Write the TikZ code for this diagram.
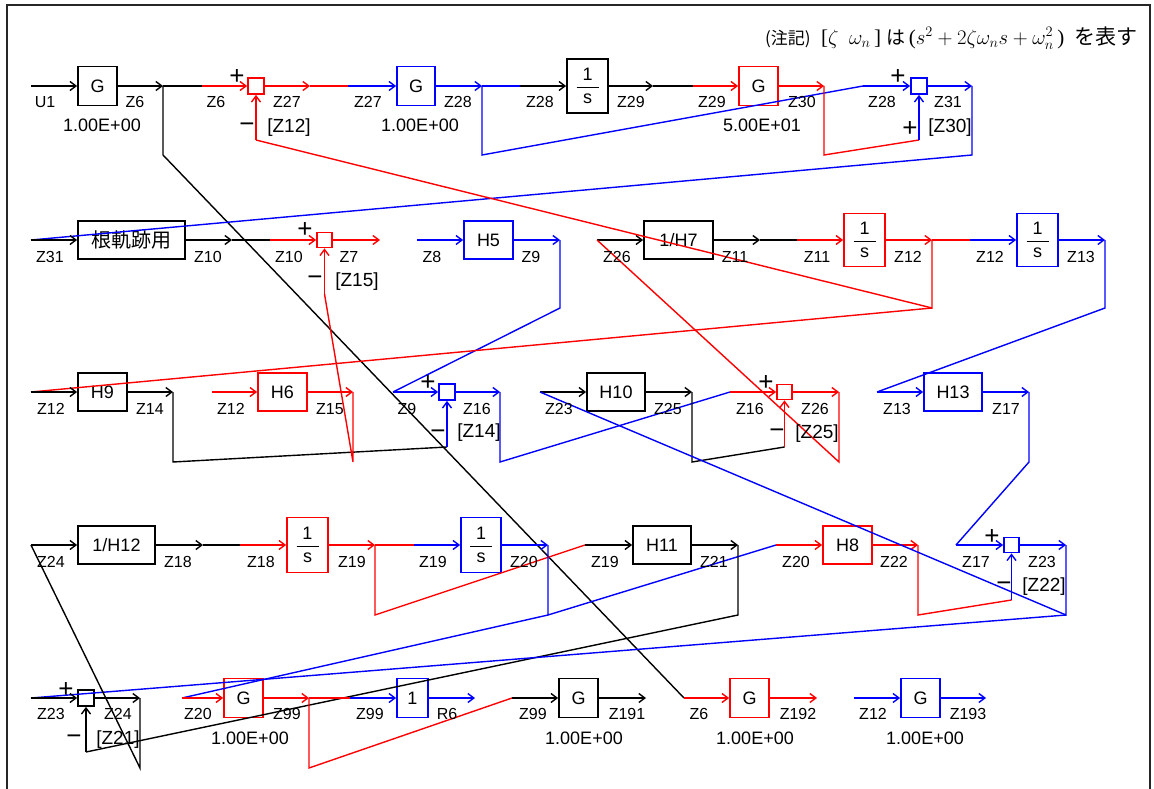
\documentclass[tikz,border=0pt]{standalone}
\usepackage{amsmath}
\usepackage{fontspec}
\setmainfont{Liberation Sans}
\newfontfamily\jp{Noto Sans CJK JP}
\newfontfamily\serif{Liberation Serif}
\usetikzlibrary{arrows.meta}
\newcommand\myfrac{\ensuremath{\genfrac{}{}{1.3pt}{0}{\makebox[22pt]{1}}{\mbox{s}}}}
\begin{document}
\begin{tikzpicture}[x=1pt,y=-1pt,
  ln/.style={line width=1.4pt},
  arr/.style={line width=1.4pt,-{Straight Barb[length=6pt,width=9pt]}},
  box/.style={draw,line width=1.8pt,inner sep=0pt,minimum height=38pt,font=\fontsize{18}{18}\selectfont},
  ibox/.style={box,minimum width=41pt,minimum height=54pt},
  sm/.style={draw,line width=1.8pt,inner sep=0pt,minimum size=15pt},
  lab/.style={inner sep=0pt,font=\fontsize{16}{16}\selectfont},
  gain/.style={inner sep=0pt,font=\fontsize{18}{18}\selectfont},
  sgn/.style={inner sep=0pt,font=\fontsize{26}{26}\selectfont},
  fb/.style={inner sep=0pt,font=\fontsize{19}{19}\selectfont},
]
\useasboundingbox (0,0) rectangle (1154,789);
\draw[line width=1.5pt,black!85] (7,5) rectangle (1150,820);

% note
\node[anchor=east,inner sep=0pt,font=\serif\fontsize{21}{21}\selectfont] (note) at (1138,38)
 {{\jp\fontsize{17}{17}\selectfont (注記)}\ \ [$\zeta\ \ \omega_n\,$]\ {\jp\fontsize{19}{19}\selectfont は}\,($s^{2}+2\zeta\omega_n s+\omega_n^{2}\,$)\ \ {\jp\fontsize{21}{21}\selectfont を表す}};

% ---------- blocks ----------
% row 1
\node[box,minimum width=39pt,minimum height=39pt] (gA) at (97.5,86) {G};
\node[sm,draw=red,minimum size=16pt] (sumA) at (256,86) {};
\node[box,draw=blue,minimum width=38pt,minimum height=39pt] (gB) at (416,86) {G};
\node[ibox] (intA) at (587.5,86) {\myfrac};
\node[box,draw=red,minimum width=39pt,minimum height=39pt] (gC) at (758.5,86) {G};
\node[sm,draw=blue,minimum size=16pt] (sumB) at (919,86) {};
% row 2
\node[box,minimum width=107pt,font=\jp\fontsize{20}{20}\selectfont] (rk) at (131.5,240) {根軌跡用};
\node[sm,draw=red] (sumC) at (324.5,240) {};
\node[box,draw=blue,minimum width=49pt] (h5) at (488.5,240) {H5};
\node[box,minimum width=69pt] (h7) at (678.5,240) {1/H7};
\node[ibox,draw=red,minimum height=53pt] (intB) at (864.5,240) {\myfrac};
\node[ibox,draw=blue,minimum height=53pt] (intC) at (1037.5,240) {\myfrac};
% row 3
\node[box,minimum width=49pt] (h9) at (102.5,392) {H9};
\node[box,draw=red,minimum width=49pt] (h6) at (282.5,392) {H6};
\node[sm,draw=blue,minimum size=16pt] (sumD) at (447,392) {};
\node[box,minimum width=58pt] (h10) at (616,392) {H10};
\node[sm,draw=red] (sumE) at (784.5,392) {};
\node[box,draw=blue,minimum width=58pt] (h13) at (953,392) {H13};
% row 4
\node[box,minimum width=77pt] (h12) at (116.5,545) {1/H12};
\node[ibox,draw=red,minimum height=55pt] (intD) at (307.5,545) {\myfrac};
\node[ibox,draw=blue,minimum width=40pt,minimum height=55pt] (intE) at (481,545) {\myfrac};
\node[box,minimum width=58pt] (h11) at (662,545) {H11};
\node[box,draw=red,minimum width=49pt] (h8) at (847.5,545) {H8};
\node[sm,draw=blue] (sumF) at (1011.5,545) {};
% row 5
\node[sm,minimum size=16pt] (sumG) at (86,698) {};
\node[box,draw=red,minimum width=39pt,minimum height=39pt] (gD) at (243.5,698) {G};
\node[box,draw=blue,minimum width=31pt,minimum height=39pt] (one) at (412.5,698) {1};
\node[box,minimum width=39pt,minimum height=39pt] (gE) at (578.5,698) {G};
\node[box,draw=red,minimum width=39pt,minimum height=39pt] (gF) at (749.5,698) {G};
\node[box,draw=blue,minimum width=39pt,minimum height=39pt] (gG) at (920.5,698) {G};

% ---------- coordinates ----------
\coordinate (u1) at (31,86);
\coordinate (z6o) at (163,86); \coordinate (z6i) at (202,86);
\coordinate (z6d) at (163,155); \coordinate (z6e) at (684,698);
\coordinate (z27o) at (310,86); \coordinate (z27i) at (348,86);
\coordinate (z28o) at (482,86); \coordinate (z28i) at (520,86);
\coordinate (z28d) at (482,155); \coordinate (z28s) at (863,86);
\coordinate (z29o) at (653,86); \coordinate (z29i) at (693,86);
\coordinate (z30o) at (824,86); \coordinate (z30d) at (824,155); \coordinate (z30f) at (919,140);
\coordinate (z31o) at (972,86); \coordinate (z31d) at (972,155); \coordinate (z31i) at (31,240);
\coordinate (z12f) at (256,140);

\coordinate (z10o) at (232,240); \coordinate (z10i) at (270,240);
\coordinate (z7o) at (380,240); \coordinate (z15f) at (324.5,294);
\coordinate (z8i) at (417,240);
\coordinate (z9o) at (560,240); \coordinate (z9d) at (560,308); \coordinate (z9e) at (393,392);
\coordinate (z26i) at (597,240);
\coordinate (z11o) at (760,240); \coordinate (z11i) at (797,240);
\coordinate (z12o) at (932,240); \coordinate (z12i) at (970,240);
\coordinate (z12d) at (932,308); \coordinate (z12e) at (31,392);
\coordinate (z13o) at (1105,240); \coordinate (z13d) at (1105,308); \coordinate (z13e) at (877,392);

\coordinate (z14o) at (173,392); \coordinate (z14d) at (173,462); \coordinate (z14f) at (447,447);
\coordinate (z12h) at (212,392);
\coordinate (z15o) at (353,392); \coordinate (z15d) at (353,462);
\coordinate (z16o) at (500,392); \coordinate (z16d) at (500,462); \coordinate (z16i) at (730,392);
\coordinate (z23h) at (540,392);
\coordinate (z25o) at (692,392); \coordinate (z25d) at (692,462); \coordinate (z25f) at (784.5,447);
\coordinate (z26o) at (839,392); \coordinate (z26d) at (839,462);
\coordinate (z17o) at (1029,392); \coordinate (z17d) at (1029,462); \coordinate (z17i) at (956,545);

\coordinate (z24i) at (31,545); \coordinate (z24d) at (140,768);
\coordinate (z18o) at (203,545); \coordinate (z18i) at (240,545);
\coordinate (z19o) at (375,545); \coordinate (z19i) at (414,545);
\coordinate (z19d) at (375,615); \coordinate (z19e) at (585,545);
\coordinate (z20o) at (548,545); \coordinate (z20d) at (548,615);
\coordinate (z20e) at (776,545); \coordinate (z20g) at (182,698);
\coordinate (z21o) at (738,545); \coordinate (z21d) at (738,615); \coordinate (z21f) at (86,752);
\coordinate (z22o) at (918,545); \coordinate (z22d) at (918,615); \coordinate (z22f) at (1011.5,600);
\coordinate (z23o) at (1066,545); \coordinate (z23d) at (1066,615); \coordinate (z23f) at (31,698);

\coordinate (z24o) at (140,698);
\coordinate (z99o) at (309,698); \coordinate (z99i) at (350,698);
\coordinate (z99d) at (309,768); \coordinate (z99e) at (512,698);
\coordinate (r6o) at (475,698); \coordinate (z191o) at (646,698);
\coordinate (z192o) at (817,698); \coordinate (z12g) at (854,698); \coordinate (z193o) at (986,698);

% ---------- connectors ----------
% row 1
\draw[arr] (u1) -- (gA.west);
\draw[arr] (gA.east) -- (z6o);
\draw[ln] (z6o) -- (z6i);
\draw[arr,red] (z6i) -- (sumA.west);
\draw[ln] (z6o) -- (z6d) -- (z6e);
\draw[arr,red] (z6e) -- (gF.west);
\draw[arr,red] (sumA.east) -- (z27o);
\draw[ln,red] (z27o) -- (z27i);
\draw[arr,blue] (z27i) -- (gB.west);
\draw[arr,red] (z12f) -- (sumA.south);
\draw[arr,blue] (gB.east) -- (z28o);
\draw[ln,blue] (z28o) -- (z28i);
\draw[arr] (z28i) -- (intA.west);
\draw[ln,blue] (z28o) -- (z28d) -- (z28s);
\draw[arr,blue] (z28s) -- (sumB.west);
\draw[arr] (intA.east) -- (z29o);
\draw[ln] (z29o) -- (z29i);
\draw[arr,red] (z29i) -- (gC.west);
\draw[arr,red] (gC.east) -- (z30o);
\draw[ln,red] (z30o) -- (z30d) -- (z30f);
\draw[arr,blue] (z30f) -- (sumB.south);
\draw[arr,blue] (sumB.east) -- (z31o);
\draw[ln,blue] (z31o) -- (z31d) -- (z31i);
\draw[arr] (z31i) -- (rk.west);
% row 2
\draw[arr] (rk.east) -- (z10o);
\draw[ln] (z10o) -- (z10i);
\draw[arr,red] (z10i) -- (sumC.west);
\draw[arr,red] (sumC.east) -- (z7o);
\draw[arr,red] (z15f) -- (sumC.south);
\draw[arr,blue] (z8i) -- (h5.west);
\draw[arr,blue] (h5.east) -- (z9o);
\draw[ln,blue] (z9o) -- (z9d) -- (z9e);
\draw[arr,blue] (z9e) -- (sumD.west);
\draw[arr] (z26i) -- (h7.west);
\draw[arr] (h7.east) -- (z11o);
\draw[ln] (z11o) -- (z11i);
\draw[arr,red] (z11i) -- (intB.west);
\draw[arr,red] (intB.east) -- (z12o);
\draw[ln,red] (z12o) -- (z12i);
\draw[arr,blue] (z12i) -- (intC.west);
\draw[ln,red] (z12o) -- (z12d) -- (z12f);
\draw[ln,red] (z12d) -- (z12e);
\draw[arr] (z12e) -- (h9.west);
\draw[arr,blue] (intC.east) -- (z13o);
\draw[ln,blue] (z13o) -- (z13d) -- (z13e);
\draw[arr,blue] (z13e) -- (h13.west);
% row 3
\draw[arr] (h9.east) -- (z14o);
\draw[ln] (z14o) -- (z14d) -- (z14f);
\draw[arr,blue] (z14f) -- (sumD.south);
\draw[arr,red] (z12h) -- (h6.west);
\draw[arr,red] (h6.east) -- (z15o);
\draw[ln,red] (z15o) -- (z15d) -- (z15f);
\draw[arr,blue] (sumD.east) -- (z16o);
\draw[ln,blue] (z16o) -- (z16d) -- (z16i);
\draw[arr,red] (z16i) -- (sumE.west);
\draw[arr] (z23h) -- (h10.west);
\draw[arr] (h10.east) -- (z25o);
\draw[ln] (z25o) -- (z25d) -- (z25f);
\draw[arr,red] (z25f) -- (sumE.south);
\draw[arr,red] (sumE.east) -- (z26o);
\draw[ln,red] (z26o) -- (z26d) -- (z26i);
\draw[arr,blue] (h13.east) -- (z17o);
\draw[ln,blue] (z17o) -- (z17d) -- (z17i);
\draw[arr,blue] (z17i) -- (sumF.west);
% row 4
\draw[arr] (z24i) -- (h12.west);
\draw[arr] (h12.east) -- (z18o);
\draw[ln] (z18o) -- (z18i);
\draw[arr,red] (z18i) -- (intD.west);
\draw[arr,red] (intD.east) -- (z19o);
\draw[ln,red] (z19o) -- (z19i);
\draw[arr,blue] (z19i) -- (intE.west);
\draw[ln,red] (z19o) -- (z19d) -- (z19e);
\draw[arr] (z19e) -- (h11.west);
\draw[arr,blue] (intE.east) -- (z20o);
\draw[ln,blue] (z20o) -- (z20d) -- (z20e);
\draw[arr,red] (z20e) -- (h8.west);
\draw[ln,blue] (z20d) -- (z20g);
\draw[arr,red] (z20g) -- (gD.west);
\draw[arr] (h11.east) -- (z21o);
\draw[ln] (z21o) -- (z21d) -- (z21f);
\draw[arr] (z21f) -- (sumG.south);
\draw[arr,red] (h8.east) -- (z22o);
\draw[ln,red] (z22o) -- (z22d) -- (z22f);
\draw[arr,blue] (z22f) -- (sumF.south);
\draw[arr,blue] (sumF.east) -- (z23o);
\draw[ln,blue] (z23o) -- (z23d) -- (z23h);
\draw[ln,blue] (z23d) -- (z23f);
\draw[arr] (z23f) -- (sumG.west);
% row 5
\draw[arr] (sumG.east) -- (z24o);
\draw[ln] (z24o) -- (z24d) -- (z24i);
\draw[arr,red] (gD.east) -- (z99o);
\draw[ln,red] (z99o) -- (z99i);
\draw[arr,blue] (z99i) -- (one.west);
\draw[ln,red] (z99o) -- (z99d) -- (z99e);
\draw[arr] (z99e) -- (gE.west);
\draw[arr,blue] (one.east) -- (r6o);
\draw[arr] (gE.east) -- (z191o);
\draw[arr,red] (gF.east) -- (z192o);
\draw[arr,blue] (z12g) -- (gG.west);
\draw[arr,blue] (gG.east) -- (z193o);

% ---------- labels ----------
\foreach \x/\t [count=\i] in {45/U1,135/Z6,216/Z6,287/Z27,368/Z27,458/Z28,540/Z28,631/Z29,712/Z29,802/Z30,882/Z28,948/Z31}
  \node[lab] (la\i) at (\x,102) {\t};
\foreach \x/\t [count=\i] in {50/Z31,208/Z10,289/Z10,349/Z7,432/Z8,531/Z9,617/Z26,735/Z11,817/Z11,908/Z12,990/Z12,1081/Z13}
  \node[lab] (lb\i) at (\x,257) {\t};
\foreach \x/\t [count=\i] in {51/Z12,150/Z14,231/Z12,330/Z15,407/Z9,477/Z16,559/Z23,668/Z25,750/Z16,815/Z26,897/Z13,1006/Z17}
  \node[lab] (lc\i) at (\x,409) {\t};
\foreach \x/\t [count=\i] in {51/Z24,178/Z18,261/Z18,352/Z19,433/Z19,524/Z20,605/Z19,714/Z21,796/Z20,894/Z22,976/Z17,1042/Z23}
  \node[lab] (ld\i) at (\x,562) {\t};
\foreach \x/\t [count=\i] in {51/Z23,118/Z24,198/Z20,287/Z99,370/Z99,447/R6,533/Z99,627/Z191,699/Z6,798/Z192,873/Z12,968/Z193}
  \node[lab] (le\i) at (\x,714) {\t};

% gains
\node[gain] (ka) at (102,125) {1.00E+00};
\node[gain] (kb) at (420,125) {1.00E+00};
\node[gain] (kc) at (762,125) {5.00E+01};
\node[gain] (kd) at (250,738) {1.00E+00};
\node[gain] (ke) at (584,738) {1.00E+00};
\node[gain] (kf) at (755,738) {1.00E+00};
\node[gain] (kg) at (925,738) {1.00E+00};

% signs
\node[sgn] (p1) at (237,77) {+};
\node[sgn] (m1) at (247,128) {−};
\node[sgn] (p2) at (898,77) {+};
\node[sgn] (p3) at (910,129) {+};
\node[sgn] (p4) at (305,230) {+};
\node[sgn] (m4) at (315,281) {−};
\node[sgn] (p5) at (428,383) {+};
\node[sgn] (m5) at (438,435) {−};
\node[sgn] (p6) at (766,383) {+};
\node[sgn] (m6) at (777,434) {−};
\node[sgn] (p7) at (992,537) {+};
\node[sgn] (m7) at (1004,587) {−};
\node[sgn] (p8) at (66,690) {+};
\node[sgn] (m8) at (74,740) {−};

% feedback names
\node[fb] (f1) at (289,128) {[Z12]};
\node[fb] (f2) at (950,128) {[Z30]};
\node[fb] (f3) at (357,282) {[Z15]};
\node[fb] (f4) at (479,433) {[Z14]};
\node[fb] (f5) at (817,434) {[Z25]};
\node[fb] (f6) at (1044,587) {[Z22]};
\node[fb] (f7) at (118,740) {[Z21]};
\end{tikzpicture}
\end{document}
